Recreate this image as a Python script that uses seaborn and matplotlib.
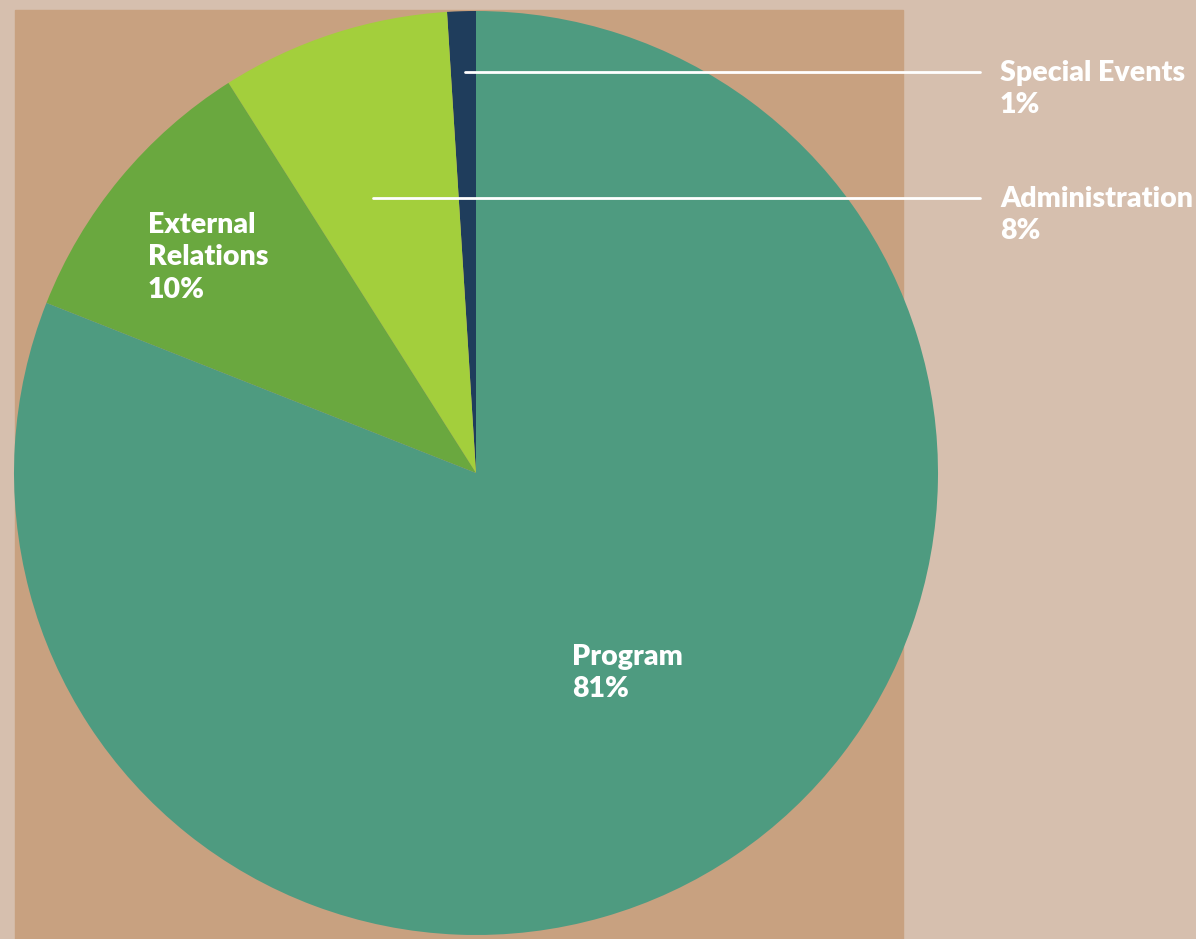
import numpy as np
import seaborn as sns
from matplotlib import pyplot as plt
from matplotlib.patches import Rectangle

# budget breakdown
categories = ['Special Events', 'Administration', 'External Relations', 'Program']
shares = [1, 8, 10, 81]
label_text = ['Special Events\n1%', 'Administration\n8%', 'External\nRelations\n10%', 'Program\n81%']
slice_colors = ['#1f3d5c', '#a3cf3c', '#6aa83f', '#4e9b80']

sns.set_theme(style='white')
plt.rcParams['font.family'] = ['Lato', 'DejaVu Sans']

W, H = 1196, 939
fig = plt.figure(figsize=(W / 100, H / 100), dpi=100, facecolor='#d6bfae')
ax = fig.add_axes([0, 0, 1, 1])

# tan square behind the pie
ax.add_patch(Rectangle((15, 0), 888, H - 10, color='#c8a180', zorder=0))

cx, cy, r = 476, H - 473, 462
wedges, _ = ax.pie(shares, colors=slice_colors, startangle=90, counterclock=True,
                   center=(cx, cy), radius=r, frame=True,
                   wedgeprops=dict(linewidth=0))
ax.set_xlim(0, W)
ax.set_ylim(0, H)
ax.set_aspect('equal')
ax.axis('off')

txt = dict(color='white', fontsize=20.5, fontweight='heavy', ha='left', va='top',
           linespacing=1.3)

# leader lines for the two thin slices on the right
ax.plot([465, 980], [H - 72, H - 72], color='white', lw=2, zorder=5)
ax.plot([373, 980], [H - 198, H - 198], color='white', lw=2, zorder=5)
ax.text(1000, H - 60, label_text[0], **txt)
ax.text(1000, H - 186, label_text[1], **txt)
ax.text(148, H - 212, label_text[2], **txt)
ax.text(572, H - 644, label_text[3], **txt)

fig.savefig('out.png', dpi=100, facecolor=fig.get_facecolor())
